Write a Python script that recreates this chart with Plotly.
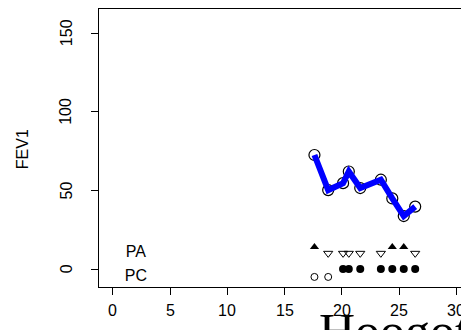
import plotly.graph_objects as go

# Data
age = [17.6, 18.8, 20.1, 20.6, 21.6, 23.4, 24.4, 25.4, 26.4]
fev1 = [72.5, 50.2, 54.6, 62.0, 51.5, 56.8, 44.9, 33.7, 39.7]
pa_status = [1, 0, 0, 0, 0, 0, 1, 1, 0]   # 1 = positive (filled up-triangle), 0 = negative
pc_status = [0, 0, 1, 1, 1, 1, 1, 1, 1]   # 1 = positive (filled circle), 0 = negative
row_labels = ["PA", "PC"]
x_ticks = [0, 5, 10, 15, 20, 25, 30]
y_ticks = [0, 50, 100, 150]

PA_UP, PA_DOWN = 14, 10
PC_POS, PC_NEG = 0, -5

FONT = "Liberation Sans"

fig = go.Figure()

fig.add_trace(go.Scatter(x=age, y=fev1, mode="markers",
                         marker=dict(symbol="circle-open", size=11, color="black",
                                     line=dict(width=1.2, color="black")),
                         hoverinfo="skip", showlegend=False))
fig.add_trace(go.Scatter(x=age, y=fev1, mode="lines",
                         line=dict(color="#0000FF", width=6),
                         hoverinfo="skip", showlegend=False))

pa_pos_x = [a for a, s in zip(age, pa_status) if s == 1]
pa_neg_x = [a for a, s in zip(age, pa_status) if s == 0]
pc_pos_x = [a for a, s in zip(age, pc_status) if s == 1]
pc_neg_x = [a for a, s in zip(age, pc_status) if s == 0]

fig.add_trace(go.Scatter(x=pa_pos_x, y=[PA_UP] * len(pa_pos_x), mode="markers",
                         marker=dict(symbol="triangle-up", size=8, color="black"),
                         showlegend=False))
fig.add_trace(go.Scatter(x=pa_neg_x, y=[PA_DOWN] * len(pa_neg_x), mode="markers",
                         marker=dict(symbol="triangle-down-open", size=8, color="black",
                                     line=dict(width=1, color="black")),
                         showlegend=False))
fig.add_trace(go.Scatter(x=pc_pos_x, y=[PC_POS] * len(pc_pos_x), mode="markers",
                         marker=dict(symbol="circle", size=8, color="black"),
                         showlegend=False))
fig.add_trace(go.Scatter(x=pc_neg_x, y=[PC_NEG] * len(pc_neg_x), mode="markers",
                         marker=dict(symbol="circle-open", size=7, color="black",
                                     line=dict(width=1, color="black")),
                         showlegend=False))

fig.add_trace(go.Scatter(x=[2, 2], y=[10, -5], mode="text", text=row_labels,
                         textfont=dict(family=FONT, size=16, color="black"),
                         showlegend=False))

# Big serif text partly cut off at the bottom
fig.add_annotation(text="Hoogoth", xref="paper", yref="paper", x=0.589, y=-0.05,
                   xanchor="left", yanchor="top", showarrow=False,
                   font=dict(family="Liberation Serif", size=50, color="black"))

# Tick labels as annotations
for v in x_ticks:
    fig.add_annotation(text=str(v), xref="x", yref="paper", x=v, y=-0.086,
                       xanchor="center", yanchor="middle", showarrow=False,
                       font=dict(family=FONT, size=16, color="black"))
for v in y_ticks:
    fig.add_annotation(text=str(v), xref="paper", yref="y", x=-0.089, y=v,
                       xanchor="center", yanchor="middle", showarrow=False, textangle=-90,
                       font=dict(family=FONT, size=16, color="black"))

fig.add_annotation(text="FEV1", xref="paper", yref="paper", x=-0.208, y=0.496,
                   xanchor="center", yanchor="middle", showarrow=False, textangle=-90,
                   font=dict(family=FONT, size=16, color="black"))

fig.update_layout(
    width=461, height=322,
    margin=dict(l=91, r=0, t=1, b=43),
    paper_bgcolor="white", plot_bgcolor="white",
    font=dict(family=FONT, size=16, color="black"),
    xaxis=dict(range=[-1.22, 31.1], tickvals=x_ticks, ticks="outside", ticklen=7,
               tickcolor="black", showgrid=False, zeroline=False, showline=True,
               linecolor="black", linewidth=1, mirror=True, showticklabels=False),
    yaxis=dict(range=[-11.4, 165.3], tickvals=y_ticks, ticks="outside", ticklen=7,
               tickcolor="black", showgrid=False, zeroline=False, showline=True,
               linecolor="black", linewidth=1, showticklabels=False),
)

fig.write_html("out.html")
